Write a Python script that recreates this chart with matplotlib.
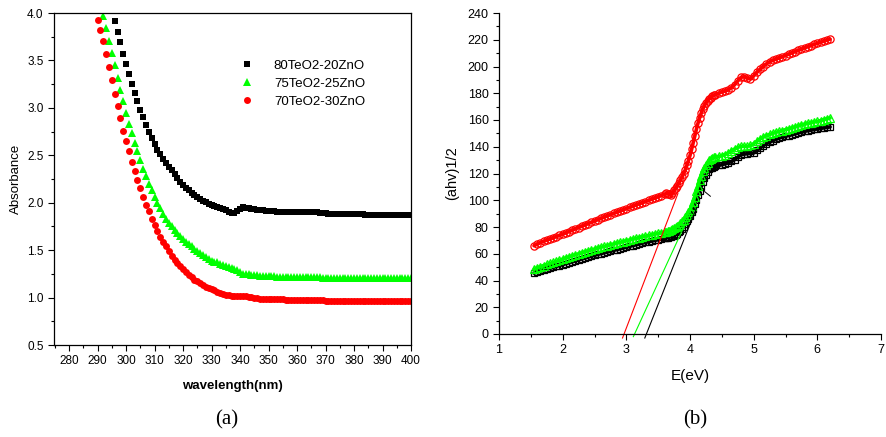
import matplotlib
matplotlib.use("Agg")
import matplotlib.pyplot as plt
from matplotlib.ticker import MultipleLocator
import numpy as np

plt.rcParams['font.family'] = ['Liberation Sans', 'DejaVu Sans']

# ── (a) absorbance spectra, 1 nm steps ────────────────────────────────────────
WL_80 = np.arange(296, 401)
ABS_80 = [3.92, 3.80, 3.69, 3.57, 3.46, 3.36, 3.25, 3.16, 3.07, 2.98,
          2.90, 2.82, 2.75, 2.68, 2.62, 2.56, 2.51, 2.46, 2.42, 2.38,
          2.34, 2.30, 2.26, 2.22, 2.19, 2.16, 2.13, 2.10, 2.08, 2.06,
          2.04, 2.02, 2.01, 1.99, 1.98, 1.97, 1.96, 1.94, 1.93, 1.92,
          1.90, 1.89, 1.89, 1.91, 1.93, 1.95, 1.94, 1.94, 1.93, 1.93,
          1.92, 1.92, 1.92, 1.91, 1.91, 1.91, 1.91, 1.90, 1.90, 1.90,
          1.90, 1.90, 1.90, 1.90, 1.90, 1.90, 1.90, 1.90, 1.90, 1.90,
          1.90, 1.90, 1.89, 1.89, 1.89, 1.88, 1.88, 1.88, 1.88, 1.88,
          1.88, 1.88, 1.88, 1.88, 1.88, 1.88, 1.88, 1.88, 1.87, 1.87,
          1.87, 1.87, 1.87, 1.87, 1.87, 1.87, 1.87, 1.87, 1.87, 1.87,
          1.87, 1.87, 1.87, 1.87, 1.87]

WL_75 = np.arange(292, 401)
ABS_75 = [3.97, 3.84, 3.71, 3.58, 3.45, 3.32, 3.19, 3.07, 2.95, 2.83,
          2.73, 2.63, 2.54, 2.45, 2.36, 2.28, 2.20, 2.13, 2.06, 2.00,
          1.94, 1.88, 1.83, 1.79, 1.75, 1.71, 1.68, 1.65, 1.62, 1.59,
          1.56, 1.54, 1.51, 1.49, 1.47, 1.45, 1.43, 1.41, 1.39, 1.38,
          1.37, 1.35, 1.34, 1.33, 1.32, 1.31, 1.30, 1.29, 1.27, 1.25,
          1.25, 1.25, 1.24, 1.24, 1.24, 1.23, 1.23, 1.23, 1.23, 1.23,
          1.23, 1.22, 1.22, 1.22, 1.22, 1.22, 1.22, 1.22, 1.22, 1.22,
          1.22, 1.22, 1.22, 1.22, 1.22, 1.22, 1.22, 1.21, 1.21, 1.21,
          1.21, 1.21, 1.21, 1.21, 1.21, 1.21, 1.21, 1.21, 1.21, 1.21,
          1.21, 1.21, 1.21, 1.21, 1.21, 1.21, 1.21, 1.21, 1.21, 1.21,
          1.21, 1.21, 1.21, 1.21, 1.21, 1.21, 1.21, 1.21, 1.21]

WL_70 = np.arange(290, 401)
ABS_70 = [3.93, 3.82, 3.71, 3.57, 3.43, 3.29, 3.15, 3.02, 2.89, 2.76,
          2.65, 2.54, 2.43, 2.33, 2.24, 2.15, 2.06, 1.98, 1.91, 1.83,
          1.76, 1.70, 1.64, 1.59, 1.54, 1.49, 1.44, 1.40, 1.36, 1.33,
          1.30, 1.27, 1.24, 1.22, 1.19, 1.17, 1.15, 1.13, 1.11, 1.10,
          1.09, 1.08, 1.06, 1.05, 1.04, 1.03, 1.03, 1.02, 1.02, 1.02,
          1.02, 1.02, 1.02, 1.01, 1.01, 1.00, 1.00, 0.99, 0.99, 0.99,
          0.98, 0.98, 0.98, 0.98, 0.98, 0.98, 0.97, 0.97, 0.97, 0.97,
          0.97, 0.97, 0.97, 0.97, 0.97, 0.97, 0.97, 0.97, 0.97, 0.97,
          0.96, 0.96, 0.96, 0.96, 0.96, 0.96, 0.96, 0.96, 0.96, 0.96,
          0.96, 0.96, 0.96, 0.96, 0.96, 0.96, 0.96, 0.96, 0.96, 0.96,
          0.96, 0.96, 0.96, 0.96, 0.96, 0.96, 0.96, 0.96, 0.96, 0.96,
          0.96]

LABELS = ['80TeO2-20ZnO', '75TeO2-25ZnO', '70TeO2-30ZnO']

# ── (b) Tauc plot ─────────────────────────────────────────────────────────────
E = [1.55, 1.60, 1.65, 1.70, 1.75, 1.80, 1.85, 1.90, 1.95, 2.00,
     2.05, 2.10, 2.15, 2.20, 2.25, 2.30, 2.35, 2.40, 2.45, 2.50,
     2.55, 2.60, 2.65, 2.70, 2.75, 2.80, 2.85, 2.90, 2.95, 3.00,
     3.05, 3.10, 3.15, 3.20, 3.25, 3.30, 3.35, 3.40, 3.45, 3.50,
     3.55,
     3.600, 3.625, 3.650, 3.675, 3.700, 3.725, 3.750, 3.775, 3.800, 3.825,
     3.850, 3.875, 3.900, 3.925, 3.950, 3.975, 4.000, 4.025, 4.050, 4.075,
     4.100, 4.125, 4.150, 4.175, 4.200, 4.225, 4.250, 4.275, 4.300, 4.325,
     4.350, 4.375,
     4.40, 4.45, 4.50, 4.55, 4.60, 4.65, 4.70, 4.75, 4.80, 4.85,
     4.90, 4.95, 5.00, 5.05, 5.10, 5.15, 5.20, 5.25, 5.30, 5.35,
     5.40, 5.45, 5.50, 5.55, 5.60, 5.65, 5.70, 5.75, 5.80, 5.85,
     5.90, 5.95, 6.00, 6.05, 6.10, 6.15, 6.20]

TAUC_80 = [45.5, 46.3, 47.0, 47.7, 48.4, 49.1, 49.8, 50.5, 51.2, 51.9,
           52.6, 53.3, 54.0, 54.7, 55.4, 56.1, 56.8, 57.5, 58.2, 58.9,
           59.5, 60.1, 60.7, 61.3, 61.9, 62.5, 63.1, 63.7, 64.3, 64.9,
           65.5, 66.1, 66.7, 67.3, 67.9, 68.5, 69.0, 69.5, 70.0, 70.5,
           71.0,
           71.5, 71.8, 72.1, 72.4, 72.7, 73.0, 73.4, 74.2, 75.0, 75.9,
           76.8, 78.5, 80.2, 82.2, 84.2, 86.3, 88.5, 91.0, 93.5, 97.0,
           100.4, 103.6, 106.7, 110.0, 113.4, 116.3, 119.0, 121.2, 123.0, 123.8,
           124.4, 124.9,
           125.4, 126.0, 126.6, 127.2, 127.9, 129.0, 130.3, 132.2, 134.0, 134.5,
           134.8, 135.0, 135.3, 137.2, 139.0, 140.7, 142.3, 143.4, 144.5, 145.5,
           146.5, 147.2, 147.8, 148.4, 149.0, 149.6, 150.3, 150.9, 151.5, 152.0,
           152.4, 152.9, 153.3, 153.7, 154.1, 154.5, 154.8]

TAUC_75 = [48.4, 49.4, 50.3, 51.2, 52.0, 52.8, 53.6, 54.4, 55.2, 56.0,
           56.8, 57.6, 58.4, 59.2, 60.0, 60.7, 61.4, 62.1, 62.8, 63.5,
           64.2, 64.9, 65.5, 66.1, 66.7, 67.3, 67.9, 68.5, 69.1, 69.7,
           70.3, 70.9, 71.5, 72.1, 72.7, 73.2, 73.7, 74.2, 74.7, 75.2,
           75.7,
           76.2, 76.5, 76.8, 77.0, 77.5, 78.2, 79.0, 79.8, 80.6, 81.8,
           83.0, 84.3, 85.6, 87.3, 89.2, 91.0, 93.0, 96.0, 99.0, 102.8,
           106.7, 111.0, 115.0, 118.5, 121.6, 124.0, 126.0, 128.2, 130.0, 130.9,
           131.5, 132.0,
           132.3, 132.8, 133.3, 134.2, 135.3, 136.8, 138.3, 139.5, 140.3, 140.5,
           140.3, 141.0, 142.3, 144.0, 145.8, 147.2, 148.3, 149.2, 150.0, 150.8,
           151.5, 152.1, 152.8, 153.4, 154.0, 154.8, 155.5, 156.3, 157.0, 157.5,
           158.0, 158.5, 159.0, 159.6, 160.3, 160.9, 161.5]

TAUC_70 = [66.0, 67.2, 68.3, 69.3, 70.2, 71.0, 71.9, 72.8, 73.7, 74.6,
           75.6, 76.6, 77.6, 78.6, 79.6, 80.6, 81.5, 82.5, 83.5, 84.5,
           85.4, 86.4, 87.3, 88.3, 89.2, 90.1, 91.0, 91.9, 92.8, 93.7,
           94.6, 95.5, 96.4, 97.3, 98.1, 99.0, 99.9, 100.8, 101.7, 102.6,
           103.5,
           104.5, 105.2, 105.0, 104.3, 104.2, 105.5, 107.3, 109.0, 110.8, 112.8,
           115.0, 117.3, 119.8, 122.6, 126.0, 129.6, 133.5, 138.0, 143.0, 148.0,
           153.0, 157.5, 161.5, 165.0, 168.0, 170.6, 172.7, 174.4, 175.7, 176.8,
           177.7, 178.4,
           179.0, 180.0, 181.0, 181.6, 182.5, 184.2, 186.4, 189.2, 191.8, 192.5,
           191.2, 190.6, 193.0, 195.8, 197.8, 200.0, 202.0, 203.5, 204.6, 205.5,
           206.4, 207.3, 208.2, 209.2, 210.2, 211.1, 212.0, 213.0, 213.9, 214.8,
           215.6, 216.5, 217.3, 218.1, 218.9, 219.7, 220.5]

# linear fits to the absorption edge (end points)
FIT_80_E, FIT_80_Y = [3.29, 4.10], [-3, 94]
FIT_75_E, FIT_75_Y = [3.11, 3.98], [-2, 88]
FIT_70_E, FIT_70_Y = [2.94, 3.81], [-3, 105]
MARK_E, MARK_Y = [4.23, 4.32], [106.5, 103]

BLACK, GREEN, RED = 'black', '#00FF00', '#FF0000'
SERIF = ['Liberation Serif', 'DejaVu Serif']

fig = plt.figure(figsize=(8.86, 4.37), dpi=100)

# ── panel (a) ────────────────────────────────────────────────────────────────
ax1 = fig.add_axes([54/886, 1 - 345/437, 357/886, 332/437])
ax1.plot(WL_80, ABS_80, 's', color=BLACK, ms=4.3, mew=0, label=LABELS[0])
ax1.plot(WL_75, ABS_75, '^', color=GREEN, ms=5.2, mew=0, label=LABELS[1])
ax1.plot(WL_70, ABS_70, 'o', color=RED, ms=5.0, mew=0, label=LABELS[2])
ax1.set_xlim(274.7, 400)
ax1.set_ylim(0.5, 4.0)
ax1.xaxis.set_major_locator(MultipleLocator(10))
ax1.xaxis.set_minor_locator(MultipleLocator(5))
ax1.yaxis.set_major_locator(MultipleLocator(0.5))
ax1.yaxis.set_minor_locator(MultipleLocator(0.25))
ax1.tick_params(which='both', direction='out', labelsize=8.5, width=0.8)
ax1.tick_params(which='major', length=4)
ax1.tick_params(which='minor', length=2.5)
for s in ax1.spines.values():
    s.set_linewidth(0.9)
ax1.set_xlabel('wavelength(nm)', fontsize=9.5, fontweight='bold', labelpad=9)
ax1.set_ylabel('Absorbance', fontsize=9.5, labelpad=4)
ax1.legend(loc='upper left', bbox_to_anchor=(0.505, 0.88), frameon=False,
           fontsize=9.5, handlelength=1.0, handletextpad=1.5,
           labelspacing=0.45, borderpad=0)

# ── panel (b) ────────────────────────────────────────────────────────────────
ax2 = fig.add_axes([499/886, 1 - 334/437, 382/886, 321/437])
# dense overlapping hollow markers read as a band: a thin same-colour
# trace underneath gives that look
for y, mk, col, ms in [(TAUC_80, 's', BLACK, 4.4),
                       (TAUC_75, '^', GREEN, 5.2),
                       (TAUC_70, 'o', RED, 5.2)]:
    ax2.plot(E, y, '-', color=col, lw=2.6, solid_capstyle='round')
    ax2.plot(E, y, mk, mfc='none', mec=col, ms=ms, mew=0.9)
ax2.plot(FIT_70_E, FIT_70_Y, color=RED, lw=0.8, clip_on=False)
ax2.plot(FIT_75_E, FIT_75_Y, color=GREEN, lw=0.8, clip_on=False)
ax2.plot(FIT_80_E, FIT_80_Y, color=BLACK, lw=0.8, clip_on=False)
ax2.plot(MARK_E, MARK_Y, color=BLACK, lw=0.7)
ax2.set_xlim(1, 7)
ax2.set_ylim(0, 240)
ax2.xaxis.set_major_locator(MultipleLocator(1))
ax2.xaxis.set_minor_locator(MultipleLocator(0.5))
ax2.yaxis.set_major_locator(MultipleLocator(20))
ax2.yaxis.set_minor_locator(MultipleLocator(10))
ax2.spines['top'].set_visible(False)
ax2.spines['right'].set_visible(False)
for s in ('left', 'bottom'):
    ax2.spines[s].set_linewidth(0.9)
ax2.tick_params(which='both', direction='out', labelsize=9, width=0.8)
ax2.tick_params(which='major', length=4)
ax2.tick_params(which='minor', length=2.5)
ax2.set_xlabel('E(eV)', fontsize=11, labelpad=9)
ax2.set_ylabel('(ahv)1/2', fontsize=10.5, labelpad=6)

fig.text(227/886, 1 - 420/437, '(a)', ha='center', va='center',
         fontsize=15, family=SERIF)
fig.text(695/886, 1 - 420/437, '(b)', ha='center', va='center',
         fontsize=15, family=SERIF)

fig.savefig('out.png', dpi=100)
